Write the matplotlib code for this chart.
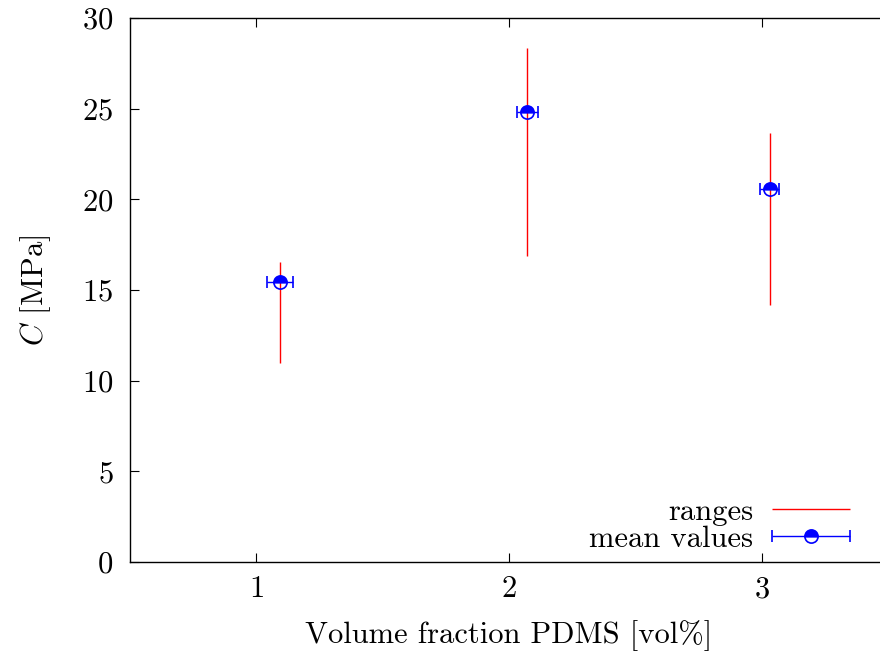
import numpy as np
import matplotlib
matplotlib.use("Agg")
import matplotlib.pyplot as plt
from matplotlib.legend_handler import HandlerErrorbar
from matplotlib.container import ErrorbarContainer

# ---------------------------------------------------------------------------
# data
# ---------------------------------------------------------------------------
x_mean   = [1.094, 2.073, 3.032]
c_mean   = [15.46, 24.84, 20.55]
x_err    = [0.050, 0.041, 0.038]
range_lo = [10.97, 16.88, 14.18]
range_hi = [16.56, 28.33, 23.65]

xticks = [1, 2, 3]
yticks = [0, 5, 10, 15, 20, 25, 30]

plt.rcParams["font.family"] = "serif"
plt.rcParams["font.serif"] = ["cmr10"]
plt.rcParams["mathtext.fontset"] = "cm"
plt.rcParams["axes.formatter.use_mathtext"] = True

FS = 22
W, H = 880, 653
fig = plt.figure(figsize=(W / 100, H / 100), dpi=100)
ax = fig.add_axes([130 / W, (H - 562) / H, (888 - 130) / W, (562 - 18) / H])

ax.vlines(x_mean, range_lo, range_hi, colors="red", linewidth=1.0, label="ranges", zorder=2)
ax.errorbar(x_mean, c_mean, xerr=x_err, fmt="o", color="blue", ecolor="blue",
            elinewidth=1.0, capsize=4, capthick=1.0, markersize=9.5,
            fillstyle="top", markerfacecolor="blue", markerfacecoloralt="none",
            markeredgecolor="blue", markeredgewidth=1.2, label="mean values", zorder=3)

ax.set_xlim(0.5, 3.5)
ax.set_ylim(0, 30)
ax.set_xticks(xticks)
ax.set_yticks(yticks)
ax.tick_params(direction="in", length=6.5, width=0.8, labelsize=FS, top=True)
ax.tick_params(axis="x", pad=10)
ax.tick_params(axis="y", pad=12)
for s in ax.spines.values():
    s.set_linewidth(1.0)

ax.set_xlabel("Volume fraction PDMS [vol%]", fontsize=FS, labelpad=12)
ax.set_ylabel("$C$ [MPa]", fontsize=FS, labelpad=21)

hl = 2.55
ax.legend(loc="lower right", bbox_to_anchor=(850 / W, (H - 553) / H),
          bbox_transform=fig.transFigure, frameon=False, fontsize=FS,
          markerfirst=False, handlelength=hl, handletextpad=0.62,
          borderpad=0, borderaxespad=0, labelspacing=0.0,
          handler_map={ErrorbarContainer: HandlerErrorbar(xerr_size=hl / 2)})

fig.savefig("out.png", dpi=100)
